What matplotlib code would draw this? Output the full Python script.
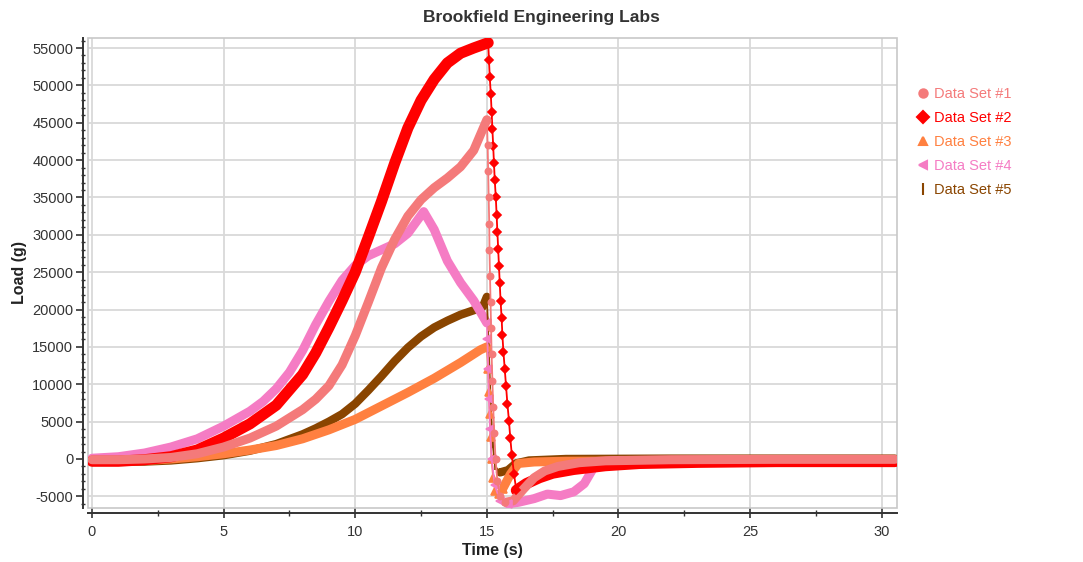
import matplotlib
matplotlib.use("Agg")
import matplotlib.pyplot as plt
from matplotlib.lines import Line2D
from matplotlib.patches import Rectangle
from matplotlib.ticker import MultipleLocator

plt.rcParams['font.family'] = ['Liberation Sans', 'DejaVu Sans']
plt.rcParams['axes.unicode_minus'] = False

# Data Set #1 (salmon)
t1 = [0, 1, 2, 3, 4, 5, 6, 7, 8, 8.5, 9, 9.5, 10, 10.5, 11, 11.5, 12, 12.5, 13, 13.5, 14, 14.5, 15.0,
      15.03, 15.05, 15.07, 15.09, 15.1, 15.12, 15.14, 15.16, 15.18, 15.21, 15.24, 15.28, 15.33, 15.4, 15.5, 15.7,
      16.0, 16.4, 16.8, 17.2, 17.7, 18.5, 19.5, 22, 26, 30.5]
y1 = [-100, -100, 0, 200, 700, 1600, 2800, 4400, 6600, 8000, 9800, 12600, 16500, 21000, 25600, 29400, 32500,
      34700, 36300, 37600, 39100, 41300, 45400,
      42000, 38500, 35000, 31500, 28000, 24500, 21000, 17500, 14000, 10500, 7000, 3500, 0, -3000, -5000, -5800,
      -5600, -4000, -2500, -1600, -1000, -500, -250, -100, -50, -50]

# Data Set #2 (red)
t2 = [0, 1, 2, 3, 4, 5, 6, 7, 8, 8.5, 9, 9.5, 10, 10.5, 11, 11.5, 12, 12.5, 13, 13.5, 14, 14.5, 15.05,
      15.08, 15.11, 15.15, 15.18, 15.21, 15.24, 15.27, 15.30, 15.34, 15.37, 15.40, 15.43, 15.46, 15.49,
      15.52, 15.56, 15.59, 15.63, 15.68, 15.73, 15.78, 15.84, 15.89, 15.95, 16.03, 16.12,
      16.5, 17.0, 17.5, 18.3, 19.5, 20.8, 23, 26, 30.5]
y2 = [-300, -300, -100, 300, 1200, 2800, 4700, 7200, 11300, 14200, 17600, 21200, 25000, 29700, 34500,
      39600, 44300, 48000, 50800, 53000, 54300, 55000, 55700,
      53400, 51100, 48800, 46500, 44200, 41900, 39600, 37300, 35000, 32700, 30400, 28100, 25800, 23500,
      21200, 18900, 16600, 14300, 12000, 9700, 7400, 5100, 2800, 500, -2000, -4200,
      -3300, -2500, -1900, -1400, -900, -600, -450, -350, -350]

# Data Set #3 (orange)
t3 = [0, 1, 2, 3, 4, 5, 6, 7, 8, 9, 10, 11, 12, 13, 14, 14.75, 15.0,
      15.05, 15.08, 15.11, 15.14, 15.18, 15.24, 15.32, 15.45, 15.6,
      15.9, 16.2, 16.8, 18, 22, 30.5]
y3 = [-300, -300, -200, 0, 300, 700, 1200, 1800, 2700, 3900, 5300, 7100, 8900, 10800, 12900, 14600, 15000,
      12000, 9000, 6000, 3000, 0, -2500, -4300, -4700, -4000,
      -2000, -600, -400, -300, -250, -250]

# Data Set #4 (pink)
t4 = [0, 1, 2, 3, 4, 5, 6, 6.5, 7, 7.5, 8, 8.5, 9, 9.5, 10, 10.5, 11, 11.5, 12, 12.6, 13, 13.5, 14, 14.5, 15.0,
      15.02, 15.05, 15.08, 15.12, 15.18, 15.3, 15.5, 15.8,
      16.2, 16.8, 17.3, 17.8, 18.3, 18.7, 19.0, 19.2, 20, 25, 30.5]
y4 = [100, 300, 800, 1600, 2700, 4400, 6400, 7700, 9400, 11600, 14500, 18000, 21100, 23900, 25900, 27200,
      28000, 28800, 30200, 33100, 30700, 26500, 23600, 21200, 18200,
      16000, 12000, 8000, 4000, 0, -3500, -5600, -6000,
      -5800, -5300, -4700, -4900, -4400, -3300, -1500, -400, -200, -150, -150]

# Data Set #5 (brown)
t5 = [0, 1, 2, 3, 4, 5, 6, 7, 8, 8.5, 9, 9.5, 10, 10.5, 11, 11.5, 12, 12.5, 13, 13.5, 14, 14.5, 14.85, 15.0,
      15.05, 15.1, 15.15, 15.22, 15.32, 15.5,
      15.8, 16.1, 16.6, 18, 22, 26, 30.5]
y5 = [-400, -400, -350, -200, 100, 500, 1100, 2000, 3300, 4100, 5000, 6000, 7400, 9200, 11100, 13100, 14900,
      16400, 17600, 18500, 19300, 19900, 20400, 21700,
      17000, 12000, 7000, 2000, -1000, -1800,
      -1500, -600, -200, 0, 50, 50, 50]

# index range of the fast drop in each series (drawn thin with markers)
drops = [(22, 38), (22, 48), (16, 25), (24, 32), (23, 29)]

labels = ["Data Set #1", "Data Set #2", "Data Set #3", "Data Set #4", "Data Set #5"]
colors = ["#f47a7a", "#ff0000", "#ff8040", "#f57cc4", "#8a4500"]
markers = ["o", "D", "^", "<", "|"]
widths = [6.5, 8.0, 6.5, 6.5, 6.0]
zorders = [7, 6, 4, 5, 3]
drop_ms = [4.5, 4.5, 5.5, 5.5, 6]

fig = plt.figure(figsize=(10.83, 5.62), dpi=100)
ax = fig.add_axes([0.0813, 0.0961, 0.7467, 0.8363])

series = [(t1, y1), (t2, y2), (t3, y3), (t4, y4), (t5, y5)]
for (t, y), (a, b), c, m, w, z, ms in zip(series, drops, colors, markers, widths, zorders, drop_ms):
    ax.plot(t[:a + 1], y[:a + 1], color=c, lw=w, solid_capstyle='round', solid_joinstyle='round', zorder=z)
    ax.plot(t[b:], y[b:], color=c, lw=w, solid_capstyle='round', solid_joinstyle='round', zorder=z)
    ax.plot(t[a:b + 1], y[a:b + 1], color=c, lw=1.3, marker=m, ms=ms, mew=1.2, zorder=z + 3)

ax.set_xlim(-0.15, 30.57)
ax.set_ylim(-6560, 56340)
ax.xaxis.set_major_locator(MultipleLocator(5))
ax.xaxis.set_minor_locator(MultipleLocator(2.5))
ax.yaxis.set_major_locator(MultipleLocator(5000))
ax.yaxis.set_minor_locator(MultipleLocator(1000))

ax.set_axisbelow(True)
ax.grid(True, which='major', color='#d9d9d9', lw=1.3)

for s in ['top', 'right']:
    ax.spines[s].set_visible(False)
for s in ['left', 'bottom']:
    ax.spines[s].set_position(('outward', 3.6))
    ax.spines[s].set_color('#333333')
    ax.spines[s].set_linewidth(1.4)
ax.add_patch(Rectangle((0, 0), 1, 1, transform=ax.transAxes, fill=False,
                       edgecolor='#c8c8c8', lw=1.2, clip_on=False, zorder=1))

ax.tick_params(axis='y', which='major', direction='out', length=5, width=1.2, color='#333333',
               labelsize=10.5, labelcolor='#333333', pad=2)
ax.tick_params(axis='y', which='minor', direction='inout', length=3, width=1.0, color='#333333')
ax.tick_params(axis='x', which='major', direction='inout', length=7, width=1.2, color='#333333',
               labelsize=10.5, labelcolor='#333333', pad=5)
ax.tick_params(axis='x', which='minor', direction='inout', length=4, width=1.0, color='#333333')

ax.set_xlabel("Time (s)", fontsize=11.5, fontweight='bold', color='#222222', labelpad=3)
ax.set_ylabel("Load (g)", fontsize=11.5, fontweight='bold', color='#222222', labelpad=4)
fig.text(0.5, 0.968, "Brookfield Engineering Labs", ha='center', va='center',
         fontsize=12.5, fontweight='bold', color='#333333')

handles = [Line2D([], [], color=c, marker=m, linestyle='none', ms=6 if m != "|" else 8, mew=1.5)
           for c, m in zip(colors, markers)]
fig.legend(handles, labels, loc='upper left', bbox_to_anchor=(0.833, 0.868), frameon=False,
           fontsize=10.5, labelcolor=colors, handlelength=1.0, handletextpad=0.3, labelspacing=0.68)

fig.savefig("out.png", dpi=100)
